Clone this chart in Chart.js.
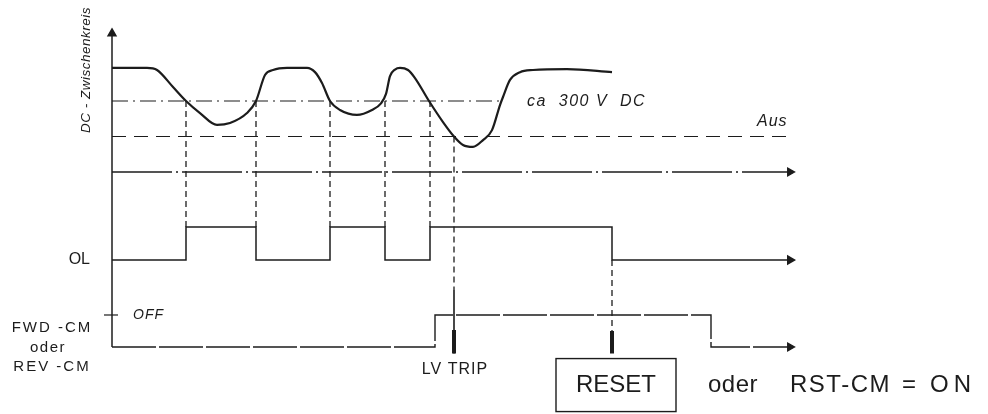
<!DOCTYPE html>
<html>
<head>
<meta charset="utf-8">
<script src="https://cdn.jsdelivr.net/npm/chart.js@4/dist/chart.umd.min.js"></script>
<style>
  html, body { margin: 0; background: #fff; }
  #wrap { width: 988px; height: 414px; }
</style>
</head>
<body>
<div id="wrap"><canvas id="timing"></canvas></div>
<script>
// DC link voltage (V) against time
const dcTime  = [0, 3.5, 4.5, 6.1, 7.4, 8.8, 10.5, 11.8, 13.5, 14.4, 15.3, 16.1, 17.5, 19.5, 20.3, 21.0, 21.8, 22.8, 24.5, 26.0,
                 26.9, 27.4, 27.8, 28.3, 28.8, 29.6, 30.3, 31.7, 33.1, 34.2, 35.1, 36.1, 37.1, 38.0, 38.8, 39.1, 39.8, 40.8, 42.1, 45.5, 50];
const dcVolts = [440, 440, 431, 359, 300, 249, 199, 207, 249, 300, 410, 431, 440, 440, 422, 376, 300, 262, 241, 262,
                 290, 330, 405, 433, 440, 431, 397, 300, 211, 150, 114, 106, 135, 177, 283, 317, 389, 422, 431, 435, 422];

// thresholds: undervoltage warning and trip level
const thresholdVolts = [300, 150];
const thresholdEnd   = [39, 67.6];

// OL signal
const olTime  = [0, 7.4, 14.4, 21.8, 27.3, 31.8, 50, 67.8];
const olState = [0, 1, 0, 1, 0, 1, 0, 0];

// FWD-CM / REV-CM signal
const fwdTime  = [0, 32.3, 59.9, 67.8];
const fwdState = [0, 1, 0, 0];

// events
const crossTimes = [7.4, 14.4, 21.8, 27.3, 31.8];   // DC drops below / returns above 300 V
const tripTime = 34.2;
const resetTime = 50;
const endTime = 67.8;

const ink = '#1c1c1c';
const pts = (xs, ys) => xs.map((x, i) => ({ x, y: ys[i] }));

// only the last point of a line gets an arrow head
function arrowAt(n) {
  return Array.from({ length: n }, (_, i) => (i === n - 1 ? 4.5 : 0));
}

function line(data, axis, extra) {
  return Object.assign({
    data, yAxisID: axis, showLine: true, borderColor: ink, backgroundColor: ink,
    borderWidth: 1.4, pointRadius: 0, fill: false, clip: false
  }, extra || {});
}

const datasets = [
  // DC link voltage
  line(pts(dcTime, dcVolts), 'yDC', { borderWidth: 2.2, cubicInterpolationMode: 'monotone' }),
  // ca 300 V DC
  line(pts([0, thresholdEnd[0]], [thresholdVolts[0], thresholdVolts[0]]), 'yDC', { borderWidth: 1.2, borderDash: [16, 5, 2, 5] }),
  // Aus
  line(pts([0, thresholdEnd[1]], [thresholdVolts[1], thresholdVolts[1]]), 'yDC', { borderWidth: 1.2, borderDash: [14, 8] }),
  // DC time axis
  line(pts([0, endTime], [0, 0]), 'yDC', {
    borderWidth: 1.4, borderDash: [60, 4, 2, 4],
    pointRadius: arrowAt(2), pointStyle: 'triangle', rotation: 90
  }),
  // OL
  line(pts(olTime, olState), 'yOL', {
    stepped: 'before', borderWidth: 1.5,
    pointRadius: arrowAt(olTime.length), pointStyle: 'triangle', rotation: 90
  }),
  // FWD-CM / REV-CM
  line(pts(fwdTime, fwdState), 'yFWD', {
    stepped: 'before', borderWidth: 1.4, borderDash: [44, 3],
    pointRadius: arrowAt(fwdTime.length), pointStyle: 'triangle', rotation: 90
  }),
  // vertical axis with arrow on top
  line(pts([0, 0], [0, 9.8]), 'yFWD', {
    borderWidth: 1.5, pointRadius: arrowAt(2), pointStyle: 'triangle', rotation: 0
  }),
  // OFF tick
  line(pts([-0.8, 0.6], [1, 1]), 'yFWD', { borderWidth: 1.2 }),
  // LV trip stroke and marks
  line(pts([tripTime, tripTime], [1.78, -0.2]), 'yFWD', { borderWidth: 1.6 }),
  line(pts([tripTime, tripTime], [0.53, -0.2]), 'yFWD', { borderWidth: 4 }),
  line(pts([resetTime, resetTime], [0.5, -0.2]), 'yFWD', { borderWidth: 4 })
];

// dashed drop lines linking the lanes
const drops = crossTimes.map(t => ({ t, from: ['yDC', thresholdVolts[0]], to: ['yOL', 1] }))
  .concat([
    { t: tripTime, from: ['yDC', thresholdVolts[1]], to: ['yFWD', 1.78] },
    { t: resetTime, from: ['yOL', 0], to: ['yFWD', 0.5] }
  ]);

const hand = '"Liberation Sans", sans-serif';
const labels = [
  { text: 'DC - Zwischenkreis', t: -2.6, axis: 'yDC', v: 431, font: 'italic 13.5px ' + hand, align: 'center', rotate: -Math.PI / 2, spacing: '0.5px' },
  { text: 'ca  300 V  DC', t: 41.5, axis: 'yDC', v: 296, font: 'italic 16px ' + hand, align: 'left', spacing: '1.5px' },
  { text: 'Aus', t: 64.5, axis: 'yDC', v: 215, font: 'italic 16px ' + hand, align: 'left', spacing: '1px' },
  { text: 'OL', t: -2.2, axis: 'yOL', v: 0, font: '16px ' + hand, align: 'right' },
  { text: 'OFF', t: 2.1, axis: 'yFWD', v: 1, font: 'italic 14px ' + hand, align: 'left', spacing: '1px' },
  { text: 'FWD -CM', t: -6, axis: 'yFWD', v: 0.59, font: '15px ' + hand, align: 'center', spacing: '2px' },
  { text: 'oder', t: -6.4, axis: 'yFWD', v: -0.03, font: '15px ' + hand, align: 'center', spacing: '1.5px' },
  { text: 'REV -CM', t: -6, axis: 'yFWD', v: -0.625, font: '15px ' + hand, align: 'center', spacing: '2px' },
  { text: 'LV TRIP', t: 34.3, axis: 'yFWD', v: -0.72, font: '16px ' + hand, align: 'center', spacing: '1px' },
  { text: 'RESET', t: 50.4, axis: 'yFWD', v: -1.19, font: '24px ' + hand, align: 'center', box: { w: 120, h: 53 } },
  { text: 'oder', t: 59.6, axis: 'yFWD', v: -1.19, font: '24px ' + hand, align: 'left', spacing: '0.5px' },
  { text: 'RST-CM', t: 67.8, axis: 'yFWD', v: -1.19, font: '24px ' + hand, align: 'left', spacing: '1.5px' },
  { text: '=', t: 79.0, axis: 'yFWD', v: -1.19, font: '24px ' + hand, align: 'left' },
  { text: 'ON', t: 81.8, axis: 'yFWD', v: -1.19, font: '24px ' + hand, align: 'left', spacing: '5px' }
];

const overlay = {
  id: 'overlay',
  afterDatasetsDraw(chart) {
    const { ctx, scales } = chart;
    const px = t => scales.x.getPixelForValue(t);
    const py = (axis, v) => scales[axis].getPixelForValue(v);
    ctx.save();
    ctx.strokeStyle = ink;
    ctx.lineWidth = 1.3;
    ctx.setLineDash([6, 4]);
    drops.forEach(d => {
      ctx.beginPath();
      ctx.moveTo(px(d.t), py(d.from[0], d.from[1]));
      ctx.lineTo(px(d.t), py(d.to[0], d.to[1]));
      ctx.stroke();
    });
    ctx.setLineDash([]);
    ctx.fillStyle = ink;
    ctx.textBaseline = 'middle';
    labels.forEach(l => {
      const x = px(l.t), y = py(l.axis, l.v);
      ctx.save();
      ctx.font = l.font;
      ctx.letterSpacing = l.spacing || '0px';
      ctx.textAlign = l.align;
      ctx.translate(x, y);
      if (l.rotate) ctx.rotate(l.rotate);
      ctx.fillText(l.text, 0, 0);
      if (l.box) {
        ctx.lineWidth = 1.4;
        ctx.strokeRect(-l.box.w / 2, -l.box.h / 2, l.box.w, l.box.h);
      }
      ctx.restore();
    });
    ctx.restore();
  }
};

new Chart(document.getElementById('timing'), {
  type: 'scatter',
  data: { datasets },
  options: {
    responsive: true,
    maintainAspectRatio: false,
    animation: false,
    events: [],
    layout: { padding: 0, autoPadding: false },
    plugins: { legend: { display: false }, tooltip: { enabled: false } },
    scales: {
      x:    { type: 'linear', min: -11.2, max: 87.6, display: false },
      // lanes share the canvas height; each axis places its own signal
      yDC:  { type: 'linear', position: 'left', min: -1022.5, max: 726.8, display: false },
      yOL:  { type: 'linear', position: 'left', min: -4.667, max: 7.879, display: false },
      yFWD: { type: 'linear', position: 'left', min: -2.094, max: 10.844, display: false }
    }
  },
  plugins: [overlay]
});
</script>
</body>
</html>
